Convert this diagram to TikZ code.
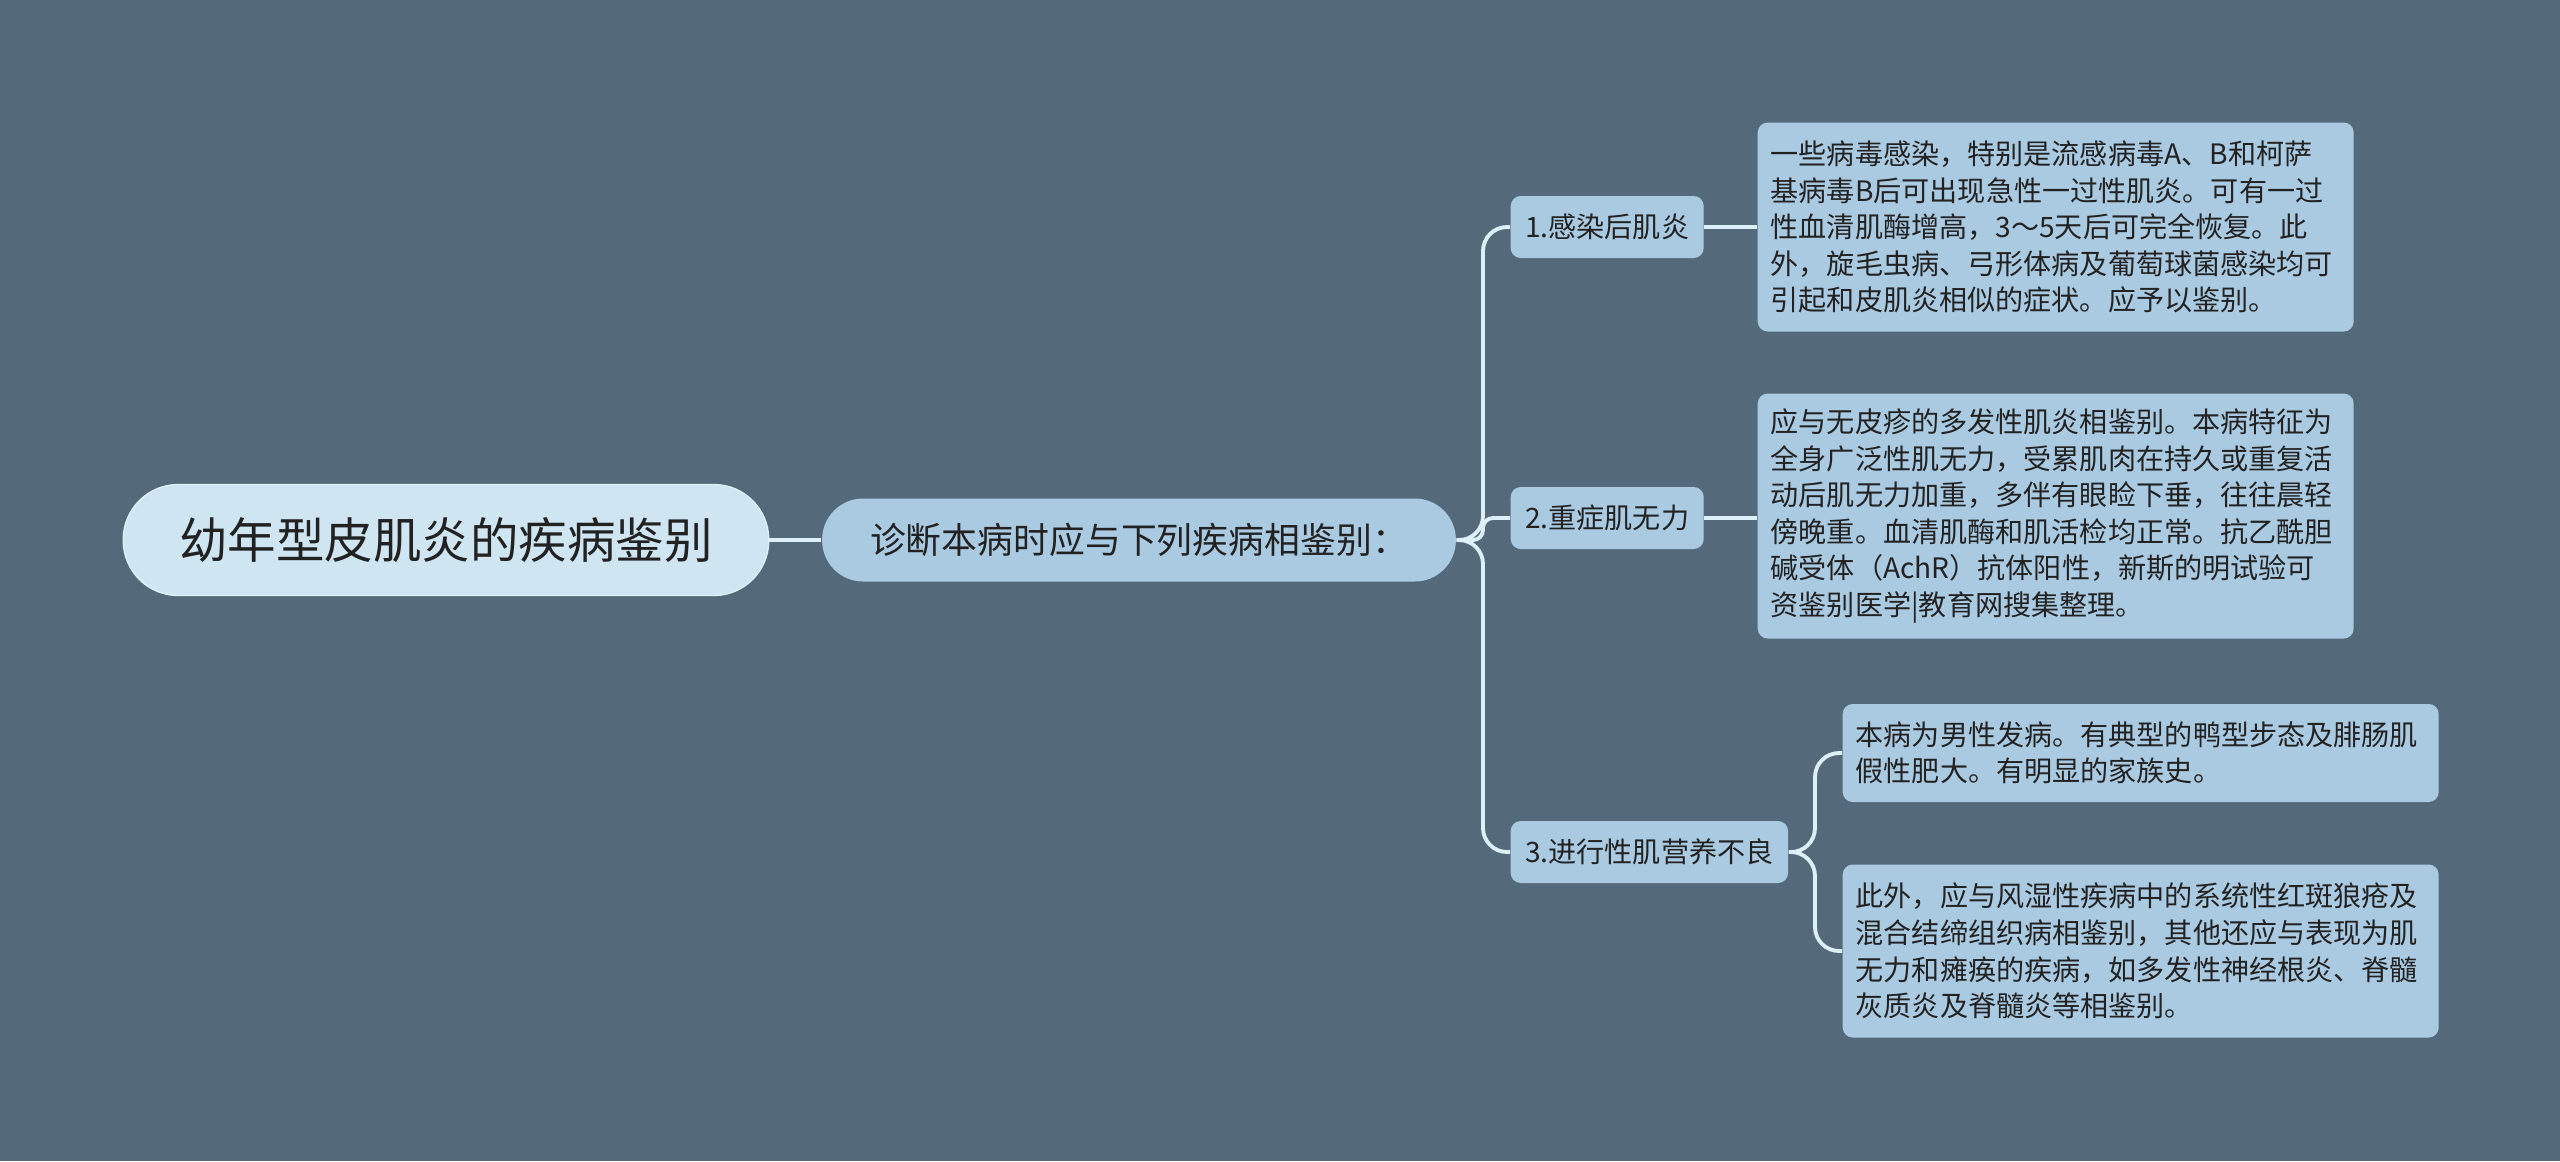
\documentclass[tikz,border=0pt]{standalone}
\usepackage{fontspec}
\setmainfont{Noto Sans CJK SC}
\definecolor{bgc}{HTML}{546A7B}
\definecolor{leafc}{HTML}{AACAE2}
\definecolor{rootc}{HTML}{CFE6F2}
\definecolor{linec}{HTML}{DDEFF7}
\definecolor{txtc}{HTML}{222222}
\begin{document}
\begin{tikzpicture}[x=0.1mm,y=-0.1mm,
  lnk/.style={draw=linec, line width=1.1pt, rounded corners=2.4mm},
  rootbox/.style={fill=rootc, draw=linec, line width=0.4pt, text=txtc, rounded corners=5.5mm,
    minimum height=11.1mm, inner xsep=5.6mm, font=\fontsize{13.8pt}{16pt}\selectfont},
  subbox/.style={fill=leafc, text=txtc, rounded corners=4.1mm,
    minimum height=8.3mm, inner xsep=4.8mm, font=\fontsize{10.2pt}{12pt}\selectfont},
  brbox/.style={fill=leafc, text=txtc, rounded corners=1mm, anchor=west,
    minimum height=6.2mm, inner xsep=1.45mm, font=\fontsize{8pt}{10pt}\selectfont},
  leafbox/.style={fill=leafc, text=txtc, rounded corners=1mm, anchor=west, align=left,
    text width=57mm, inner xsep=1.3mm, inner ysep=0pt, font=\fontsize{8pt}{10.4pt}\selectfont}]
\fill[bgc] (0,0) rectangle (2560,1161);
\useasboundingbox (0,0) rectangle (2560,1161);
\node[rootbox] (nd0) at (446,540){幼年型皮肌炎的疾病鉴别};
\node[subbox] (nd1) at (1139,540){诊断本病时应与下列疾病相鉴别：};
\node[brbox] (nd2) at (1510,227){1.感染后肌炎};
\node[brbox] (nd3) at (1510,518){2.重症肌无力};
\node[brbox] (nd4) at (1510,852){3.进行性肌营养不良};
\node[leafbox, minimum height=20.9mm] (nd5) at (1757,227){一些病毒感染，特别是流感病毒A、B和柯萨\\基病毒B后可出现急性一过性肌炎。可有一过\\性血清肌酶增高，3～5天后可完全恢复。此\\外，旋毛虫病、弓形体病及葡萄球菌感染均可\\引起和皮肌炎相似的症状。应予以鉴别。};
\node[leafbox, minimum height=24.5mm] (nd6) at (1757,516){应与无皮疹的多发性肌炎相鉴别。本病特征为\\全身广泛性肌无力，受累肌肉在持久或重复活\\动后肌无力加重，多伴有眼睑下垂，往往晨轻\\傍晚重。血清肌酶和肌活检均正常。抗乙酰胆\\碱受体（AchR）抗体阳性，新斯的明试验可\\资鉴别医学|教育网搜集整理。};
\node[leafbox, minimum height=9.8mm] (nd7) at (1842,753){本病为男性发病。有典型的鸭型步态及腓肠肌\\假性肥大。有明显的家族史。};
\node[leafbox, minimum height=17.3mm] (nd8) at (1842,951){此外，应与风湿性疾病中的系统性红斑狼疮及\\混合结缔组织病相鉴别，其他还应与表现为肌\\无力和瘫痪的疾病，如多发性神经根炎、脊髓\\灰质炎及脊髓炎等相鉴别。};
\coordinate (jt0) at (1483,540);
\coordinate (jt1) at (1815,852);
\draw[lnk](nd0.east) -- (nd1.west);
\draw[lnk](nd1.east) -- (jt0) |- (nd2.west);
\draw[lnk, rounded corners=1mm](nd1.east) -- (jt0) |- (nd3.west);
\draw[lnk](nd1.east) -- (jt0) |- (nd4.west);
\draw[lnk](nd2.east) -- (nd5.west);
\draw[lnk](nd3.east) -- (nd3.east -| nd6.west);
\draw[lnk](nd4.east) -- (jt1) |- (nd7.west);
\draw[lnk](nd4.east) -- (jt1) |- (nd8.west);
\end{tikzpicture}
\end{document}
